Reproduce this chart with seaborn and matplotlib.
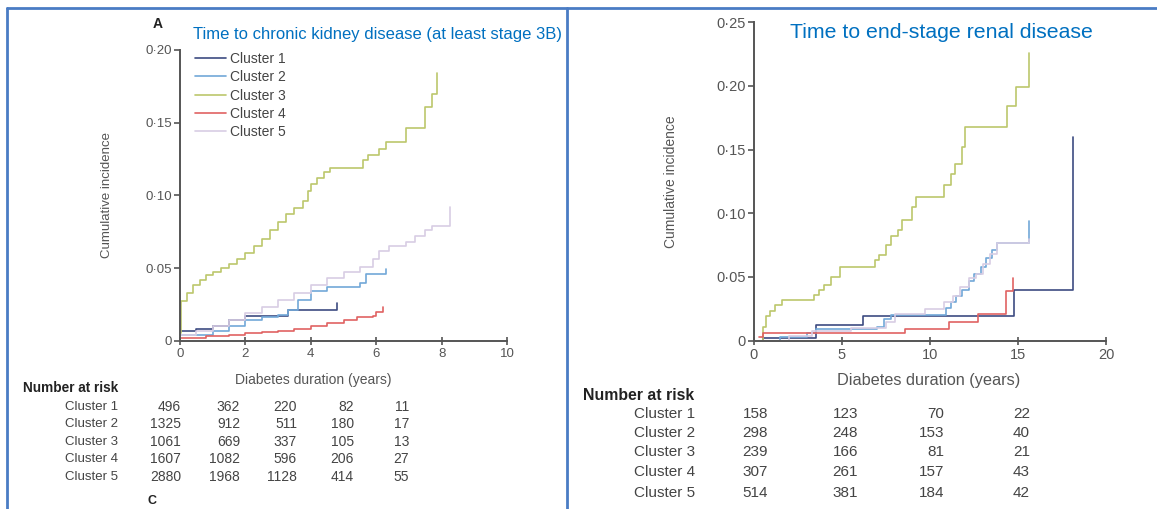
import matplotlib
matplotlib.use("Agg")
import matplotlib.pyplot as plt
import seaborn as sns
import pandas as pd

# --- data ---
clusters = ["Cluster 1", "Cluster 2", "Cluster 3", "Cluster 4", "Cluster 5"]
colors = ["#3d4b82", "#72a8d8", "#bcc76c", "#e06262", "#d8cde4"]

# panel A: chronic kidney disease (at least stage 3B)
ckd_c1_t = [0, 0.5, 1.0, 1.5, 2.0, 3.3, 4.8]
ckd_c1_y = [0.007, 0.008, 0.010, 0.014, 0.017, 0.021, 0.026]
ckd_c2_t = [0, 1.0, 1.5, 2.0, 2.5, 3.0, 3.3, 3.6, 4.0, 4.5, 5.5, 5.7, 6.3]
ckd_c2_y = [0.004, 0.007, 0.010, 0.014, 0.016, 0.018, 0.021, 0.028, 0.034, 0.037, 0.040, 0.046, 0.049]
ckd_c3_t = [0, 0.02, 0.2, 0.4, 0.6, 0.8, 1.0, 1.25, 1.5, 1.75, 2.0, 2.25, 2.5, 2.75, 3.0, 3.25,
            3.5, 3.75, 3.9, 4.0, 4.2, 4.4, 4.6, 5.6, 5.75, 6.1, 6.3, 6.9, 7.5, 7.7, 7.85]
ckd_c3_y = [0.005, 0.027, 0.033, 0.038, 0.042, 0.045, 0.047, 0.050, 0.053, 0.056, 0.060, 0.065,
            0.070, 0.076, 0.082, 0.087, 0.091, 0.096, 0.103, 0.108, 0.112, 0.116, 0.119, 0.124,
            0.128, 0.132, 0.137, 0.146, 0.161, 0.170, 0.184]
ckd_c4_t = [0, 0.8, 1.5, 2.0, 2.5, 3.0, 3.5, 4.0, 4.5, 5.0, 5.4, 5.9, 6.0, 6.2]
ckd_c4_y = [0.002, 0.003, 0.004, 0.005, 0.006, 0.007, 0.008, 0.010, 0.012, 0.014, 0.016, 0.017, 0.020, 0.023]
ckd_c5_t = [0, 0.5, 1.0, 1.5, 2.0, 2.5, 3.0, 3.5, 4.0, 4.5, 5.0, 5.5, 5.9, 6.1, 6.4, 6.9, 7.2, 7.5, 7.7, 8.25]
ckd_c5_y = [0.004, 0.007, 0.010, 0.014, 0.019, 0.023, 0.028, 0.033, 0.038, 0.043, 0.047, 0.051,
            0.056, 0.062, 0.065, 0.068, 0.072, 0.076, 0.079, 0.092]

# panel B: end-stage renal disease
esrd_c1_t = [0.3, 0.5, 3.5, 6.2, 14.8, 18.1]
esrd_c1_y = [0, 0.002, 0.012, 0.019, 0.040, 0.160]
esrd_c2_t = [0.3, 1.5, 3.0, 3.5, 7.0, 7.4, 7.8, 10.9, 11.2, 11.5, 11.8, 12.2, 12.5, 12.9, 13.2, 13.5, 13.8, 15.6]
esrd_c2_y = [0, 0.003, 0.006, 0.009, 0.011, 0.017, 0.020, 0.026, 0.030, 0.035, 0.040, 0.047,
             0.052, 0.058, 0.065, 0.071, 0.077, 0.094]
esrd_c3_t = [0.3, 0.5, 0.7, 0.9, 1.2, 1.6, 3.4, 3.7, 4.0, 4.4, 4.9, 6.9, 7.1, 7.5, 7.8, 8.2, 8.4,
             9.0, 9.2, 10.8, 11.2, 11.4, 11.8, 12.0, 14.4, 14.9, 15.6]
esrd_c3_y = [0, 0.011, 0.019, 0.023, 0.028, 0.032, 0.036, 0.040, 0.044, 0.050, 0.058, 0.063, 0.067,
             0.075, 0.082, 0.087, 0.095, 0.105, 0.113, 0.122, 0.131, 0.139, 0.152, 0.168, 0.184,
             0.199, 0.226]
esrd_c4_t = [0.3, 0.5, 8.6, 11.1, 12.7, 14.3, 14.7]
esrd_c4_y = [0.003, 0.006, 0.009, 0.015, 0.021, 0.039, 0.049]
esrd_c5_t = [0.3, 2.0, 3.3, 5.5, 7.5, 8.0, 9.7, 10.8, 11.3, 11.7, 12.2, 12.6, 13.0, 13.4, 13.8, 15.6]
esrd_c5_y = [0, 0.004, 0.008, 0.010, 0.015, 0.021, 0.025, 0.030, 0.035, 0.042, 0.049, 0.052,
             0.060, 0.068, 0.077, 0.080]

# number at risk
ckd_risk = [[496, 362, 220, 82, 11],
            [1325, 912, 511, 180, 17],
            [1061, 669, 337, 105, 13],
            [1607, 1082, 596, 206, 27],
            [2880, 1968, 1128, 414, 55]]
esrd_risk = [[158, 123, 70, 22],
             [298, 248, 153, 40],
             [239, 166, 81, 21],
             [307, 261, 157, 43],
             [514, 381, 184, 42]]

ckd_title = "Time to chronic kidney disease (at least stage 3B)"
esrd_title = "Time to end-stage renal disease"


def long_frame(ts, ys):
    rows = []
    for name, t, y in zip(clusters, ts, ys):
        for a, b in zip(t, y):
            rows.append({"cluster": name, "time": a, "inc": b})
    return pd.DataFrame(rows)


ckd_df = long_frame([ckd_c1_t, ckd_c2_t, ckd_c3_t, ckd_c4_t, ckd_c5_t],
                    [ckd_c1_y, ckd_c2_y, ckd_c3_y, ckd_c4_y, ckd_c5_y])
esrd_df = long_frame([esrd_c1_t, esrd_c2_t, esrd_c3_t, esrd_c4_t, esrd_c5_t],
                     [esrd_c1_y, esrd_c2_y, esrd_c3_y, esrd_c4_y, esrd_c5_y])

sns.set_style("white")
plt.rcParams["font.family"] = ["Liberation Sans", "DejaVu Sans"]

W, H = 1157, 509
fig = plt.figure(figsize=(W / 100, H / 100), dpi=100)


def px(x, y):
    return x / W, 1 - y / H


def box(x0, x1, y0, y1):
    return [x0 / W, 1 - y1 / H, (x1 - x0) / W, (y1 - y0) / H]


palette = dict(zip(clusters, colors))
grey = "#555555"
ink = "#444444"


def style_axis(ax, xmax, xstep, ymax, fs):
    ax.set_xlim(0, xmax)
    ax.set_ylim(0, ymax)
    yt = [i * 0.05 for i in range(int(round(ymax / 0.05)) + 1)]
    ax.set_yticks(yt, labels=["0"] + [f"{v:.2f}".replace(".", "·") for v in yt[1:]])
    ax.set_xticks(range(0, xmax + 1, xstep))
    for s in ["top", "right"]:
        ax.spines[s].set_visible(False)
    for s in ["left", "bottom"]:
        ax.spines[s].set_color(grey)
        ax.spines[s].set_linewidth(1.4)
    ax.tick_params(axis="y", direction="out", length=4, width=1.2, color=grey,
                   labelcolor=grey, labelsize=fs, left=True, pad=2)
    ax.tick_params(axis="x", direction="inout", length=6, width=1.2, color=grey,
                   labelcolor=grey, labelsize=fs, bottom=True, pad=2)
    ax.set_xlabel("")
    ax.set_ylabel("")


# ---- left panel ----
ax1 = fig.add_axes(box(180, 507, 50, 340.7))
sns.lineplot(data=ckd_df, x="time", y="inc", hue="cluster", palette=palette,
             estimator=None, sort=False, drawstyle="steps-post", linewidth=1.2, ax=ax1)
style_axis(ax1, 10, 2, 0.20, 9.5)
leg = ax1.legend(loc="upper left", bbox_to_anchor=(0.046, 0.993), frameon=False, fontsize=10,
                 handlelength=2.2, handletextpad=0.3, labelspacing=0.31, borderpad=0,
                 borderaxespad=0)
for t in leg.get_texts():
    t.set_color(ink)
ax1.set_ylabel("Cumulative incidence", fontsize=9.5, color=grey)
ax1.yaxis.set_label_coords((113 - 180) / 327, 0.5)

# ---- right panel ----
ax2 = fig.add_axes(box(754, 1106, 22.2, 340.7))
sns.lineplot(data=esrd_df, x="time", y="inc", hue="cluster", palette=palette,
             estimator=None, sort=False, drawstyle="steps-post", linewidth=1.2, ax=ax2,
             legend=False)
style_axis(ax2, 20, 5, 0.25, 10.5)
ax2.set_ylabel("Cumulative incidence", fontsize=10, color=grey)
ax2.yaxis.set_label_coords((678 - 754) / 352, 0.5)

# titles and labels
fig.text(*px(193, 34), ckd_title, color="#0070c0", fontsize=12, va="center", ha="left")
fig.text(*px(790, 33), esrd_title, color="#0070c0", fontsize=15.3, va="center", ha="left")
fig.text(*px(158, 24), "A", fontsize=10, fontweight="bold", color="#222222", va="center", ha="center")
fig.text(*px(313, 380), "Diabetes duration (years)", fontsize=10, color=grey, va="center", ha="center")
fig.text(*px(929, 381), "Diabetes duration (years)", fontsize=11.7, color=grey, va="center", ha="center")

# number-at-risk tables
fig.text(*px(23, 388), "Number at risk", fontsize=9.8, fontweight="bold", color="#222222", va="center")
left_cols = [181, 240, 297, 354, 409]
left_rows = [407, 424, 442, 459, 477]
for name, row, yy in zip(clusters, ckd_risk, left_rows):
    fig.text(*px(118, yy), name, fontsize=9.5, color=ink, va="center", ha="right")
    for xx, n in zip(left_cols, row):
        fig.text(*px(xx, yy), str(n), fontsize=10, color=ink, va="center", ha="right")

fig.text(*px(583, 395), "Number at risk", fontsize=11.4, fontweight="bold", color="#222222", va="center")
right_cols = [768, 858, 944, 1030]
right_rows = [414, 433, 452, 472, 493]
for name, row, yy in zip(clusters, esrd_risk, right_rows):
    fig.text(*px(695, yy), name, fontsize=11, color=ink, va="center", ha="right")
    for xx, n in zip(right_cols, row):
        fig.text(*px(xx, yy), str(n), fontsize=11, color=ink, va="center", ha="right")

fig.text(*px(152, 495), "C", fontsize=9, fontweight="bold", color="#222222", va="top", ha="center")

# blue frame lines of the composite
border = "#4a7cc4"
fig.add_artist(plt.Line2D([7 / W, 1], [1 - 8 / H] * 2, color=border, lw=2))
fig.add_artist(plt.Line2D([7 / W] * 2, [0, 1 - 8 / H], color=border, lw=2))
fig.add_artist(plt.Line2D([567 / W] * 2, [0, 1 - 8 / H], color=border, lw=2))

fig.savefig("out.png", dpi=100)
